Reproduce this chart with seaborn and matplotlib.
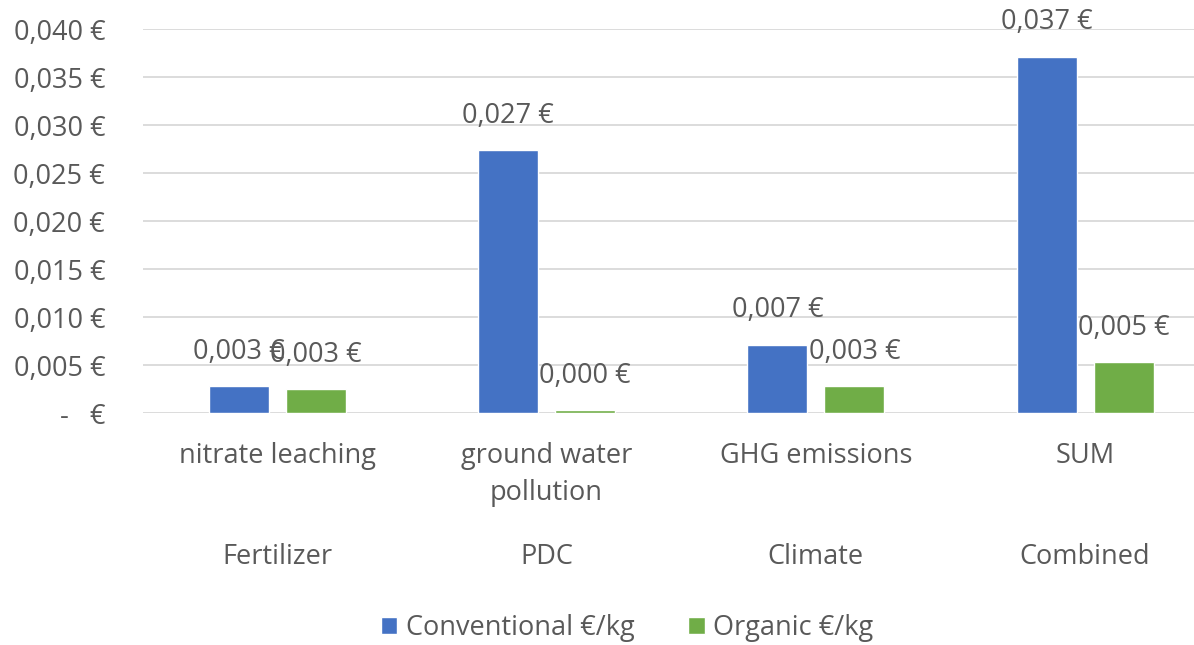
import matplotlib
matplotlib.use("Agg")
import matplotlib.pyplot as plt
import matplotlib.transforms as mtransforms
from matplotlib.patches import Patch
import seaborn as sns
import pandas as pd

# ---- data ----
categories = ["nitrate leaching", "ground water\npollution", "GHG emissions", "SUM"]
groups = ["Fertilizer", "PDC", "Climate", "Combined"]
series_names = ["Conventional €/kg", "Organic €/kg"]
conventional = [0.0028, 0.0274, 0.0071, 0.0371]
organic = [0.0025, 0.0003, 0.0028, 0.0053]
y_ticks = [0.0, 0.005, 0.010, 0.015, 0.020, 0.025, 0.030, 0.035, 0.040]

df = pd.DataFrame({
    "category": categories * 2,
    "value": conventional + organic,
    "series": [series_names[0]] * 4 + [series_names[1]] * 4,
})

sns.set_theme(style="white")
plt.rcParams["font.family"] = ["Open Sans", "DejaVu Sans"]

TEXT = "#595959"
BLUE = "#4472C4"
GREEN = "#70AD47"
FS = 19.5

fig = plt.figure(figsize=(11.94, 6.45), dpi=100)
ax = fig.add_axes([142.7 / 1194, 231.7 / 645, 1077 / 1194, 384 / 645])

sns.barplot(data=df, x="category", y="value", hue="series",
            palette=[BLUE, GREEN], width=0.572, gap=0.22, ax=ax,
            legend=False, saturation=1)

ax.set_xlim(-0.5, 3.5)
ax.set_ylim(0, 0.040)
ax.set_yticks(y_ticks)
ax.set_yticklabels(["-   €" if t == 0 else f"{t:.3f} €".replace(".", ",") for t in y_ticks])
ax.yaxis.grid(True, color="#d9d9d9", linewidth=1.3)
ax.set_axisbelow(True)
for s in ax.spines.values():
    s.set_visible(False)
ax.set_xlabel("")
ax.set_ylabel("")
ax.tick_params(axis="y", length=0, pad=27, labelsize=FS, labelcolor=TEXT)
ax.tick_params(axis="x", length=0, pad=21, labelsize=FS, labelcolor=TEXT)
for lab in ax.get_xticklabels():
    lab.set_linespacing(1.4)

# data labels
for cont in ax.containers:
    for bar in cont:
        h = bar.get_height()
        ax.annotate(f"{h:.3f} €".replace(".", ","),
                    (bar.get_x() + bar.get_width() / 2, h),
                    xytext=(0, 25), textcoords="offset points",
                    ha="center", va="center", fontsize=FS, color=TEXT,
                    annotation_clip=False)

# second level of category labels
trans = mtransforms.blended_transform_factory(ax.transData, ax.transAxes)
for i, g in enumerate(groups):
    ax.text(i, -0.375, g, transform=trans, ha="center", va="center",
            fontsize=FS, color=TEXT)

handles = [Patch(facecolor=BLUE), Patch(facecolor=GREEN)]
fig.legend(handles, series_names, loc="center", bbox_to_anchor=(627 / 1194, 1 - 628 / 645),
           ncol=2, frameon=False, fontsize=FS, labelcolor=TEXT,
           handlelength=0.6, handleheight=0.6, handletextpad=0.3, columnspacing=2.0)

fig.savefig("out.png", dpi=100)
